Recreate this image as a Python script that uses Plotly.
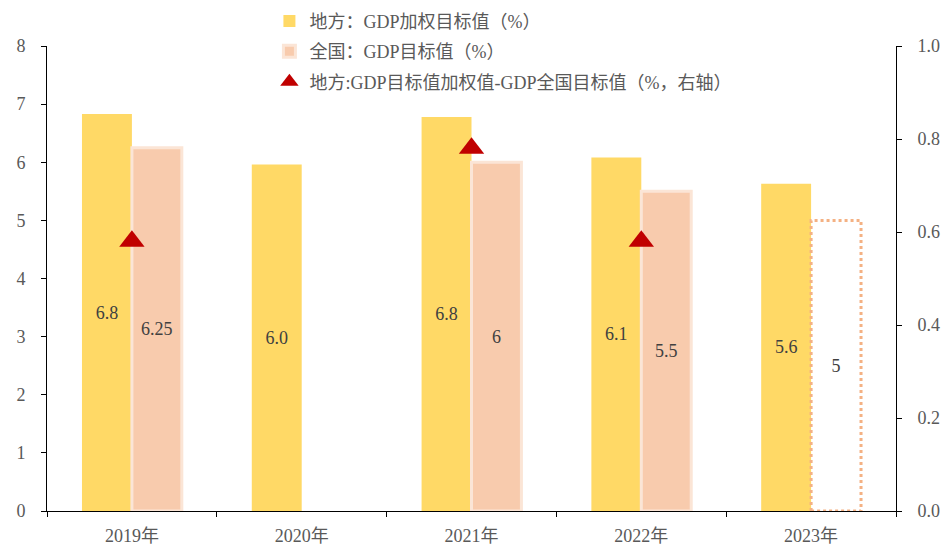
import plotly.graph_objects as go

years = ["2019年", "2020年", "2021年", "2022年", "2023年"]
local_vals = [6.83, 5.96, 6.78, 6.08, 5.63]
national_vals = [6.25, None, 6.0, 5.5, 5.0]
national_text = ["6.25", "", "6", "5.5", "5"]
diff_vals = [0.58, None, 0.78, 0.58, None]

names = ["地方：GDP加权目标值（%）", "全国：GDP目标值（%）",
         "地方:GDP目标值加权值-GDP全国目标值（%，右轴）"]

FONT = "Liberation Serif, Times New Roman, Noto Sans CJK SC"
YELLOW = "#FFD966"
PEACH = "#F8CBAD"
PEACH_EDGE = "#FBE5D6"
DOT = "#F4B183"
RED = "#C00000"
TXT = "#404040"
GREY = "#595959"

bar_w = 0.294

# last national value is a target shown as an empty dotted outline
nat_colors = [PEACH] * (len(years) - 1) + ["rgba(0,0,0,0)"]
nat_lines = [PEACH_EDGE] * (len(years) - 1) + ["rgba(0,0,0,0)"]

fig = go.Figure()
fig.add_trace(go.Bar(
    x=years, y=local_vals, name=names[0], legendgroup="a",
    marker=dict(color=YELLOW, line=dict(width=0)),
    text=[f"{v:.1f}" for v in local_vals], textposition="inside",
    insidetextanchor="middle", textangle=0,
    textfont=dict(family=FONT, size=18, color=TXT),
))
fig.add_trace(go.Bar(
    x=years, y=national_vals, name=names[1], legendgroup="b",
    marker=dict(color=nat_colors, line=dict(color=nat_lines, width=3)),
    text=national_text, textposition="inside",
    insidetextanchor="middle", textangle=0,
    textfont=dict(family=FONT, size=18, color=TXT),
))
fig.add_trace(go.Scatter(
    x=years, y=diff_vals, name=names[2], legendgroup="c", yaxis="y2",
    mode="markers", marker=dict(symbol="triangle-up", size=22, color=RED),
))

last = len(years) - 1
fig.add_shape(type="rect", xref="x", yref="y",
              x0=last, x1=last + bar_w, y0=0, y1=national_vals[last],
              line=dict(color=DOT, width=3, dash="dot"), fillcolor="rgba(0,0,0,0)")

fig.update_layout(
    width=952, height=549,
    margin=dict(l=47, r=56, t=46, b=38, autoexpand=False),
    paper_bgcolor="white", plot_bgcolor="white",
    barmode="group", bargap=1 - 2 * bar_w, bargroupgap=0,
    font=dict(family=FONT, size=18, color=GREY),
    showlegend=True,
    legend=dict(xref="container", yref="container", x=0.283, y=0.995,
                xanchor="left", yanchor="top",
                bgcolor="rgba(0,0,0,0)", tracegroupgap=4,
                font=dict(family=FONT, size=18, color=GREY)),
    xaxis=dict(type="category", showline=True, linecolor="black", linewidth=1,
               ticks="outside", ticklen=5, tickcolor="black", tickson="boundaries",
               showgrid=False, ticklabelstandoff=8,
               tickfont=dict(family=FONT, size=18, color=GREY)),
    yaxis=dict(range=[0, 8], dtick=1, showline=True, linecolor="black", linewidth=1,
               ticks="outside", ticklen=5, tickcolor="black", showgrid=False,
               zeroline=False, ticklabelstandoff=12,
               tickfont=dict(family=FONT, size=18, color=GREY)),
    yaxis2=dict(range=[0, 1], dtick=0.2, tickformat=".1f", overlaying="y", side="right",
                showline=True, linecolor="black", linewidth=1, ticks="outside",
                ticklen=5, tickcolor="black", showgrid=False, zeroline=False,
                ticklabelstandoff=12,
                tickfont=dict(family=FONT, size=18, color=GREY)),
)

fig.write_html("out.html", config={"displayModeBar": False},
               post_script="document.body.style.margin='0';")
